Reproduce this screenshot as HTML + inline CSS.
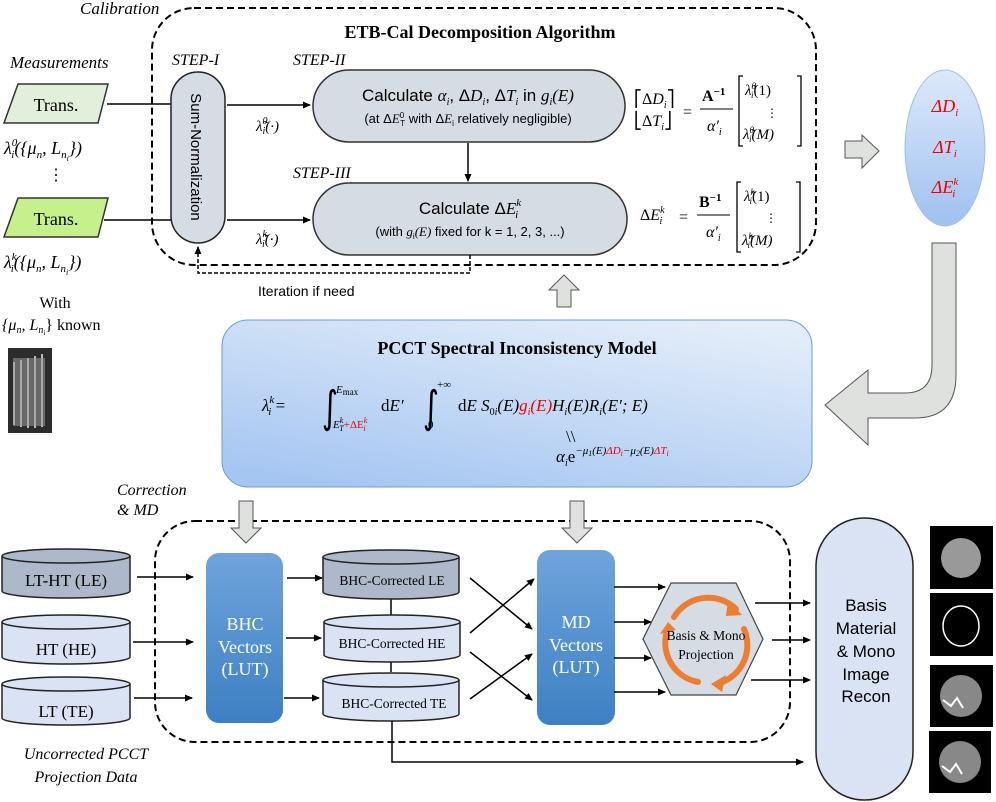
<!DOCTYPE html>
<html><head><meta charset="utf-8"><style>
body{margin:0;background:#fff;width:996px;height:802px;overflow:hidden}
svg{display:block}
.s{font-family:"Liberation Serif",serif}
.a{font-family:"Liberation Sans",sans-serif}
.i{font-style:italic}
</style></head><body>
<svg width="996" height="802" viewBox="0 0 996 802" xmlns="http://www.w3.org/2000/svg">
<defs>
<marker id="ar" markerWidth="8" markerHeight="8" refX="7" refY="4" orient="auto" markerUnits="userSpaceOnUse"><path d="M0,0.5 L8,4 L0,7.5 z" fill="#000"/></marker>
<linearGradient id="pc" x1="0.8" y1="0" x2="0.2" y2="1"><stop offset="0" stop-color="#e3edf9"/><stop offset="1" stop-color="#a6c6f2"/></linearGradient>
<linearGradient id="el" x1="0" y1="0" x2="0" y2="1"><stop offset="0" stop-color="#dde9fb"/><stop offset="1" stop-color="#9fc1f0"/></linearGradient>
<linearGradient id="bl" x1="0" y1="0" x2="0" y2="1"><stop offset="0" stop-color="#6fa4dc"/><stop offset="1" stop-color="#3d80c3"/></linearGradient>
</defs>

<!-- Calibration -->
<text x="80" y="14" class="s i" font-size="17">Calibration</text>
<rect x="152" y="8" width="664" height="257" rx="42" fill="none" stroke="#000" stroke-width="2" stroke-dasharray="7,4"/>
<text x="480" y="38" class="s" font-size="18" font-weight="bold" text-anchor="middle">ETB-Cal Decomposition Algorithm</text>
<text x="10" y="68" class="s i" font-size="17">Measurements</text>
<polygon points="18,84 108,84 98,123 4,123" fill="#e2efda" stroke="#333" stroke-width="1.5"/>
<text x="56" y="111" class="s" font-size="18" text-anchor="middle">Trans.</text>
<polygon points="18,198 108,198 98,237 4,237" fill="#c5f08c" stroke="#333" stroke-width="1.5"/>
<text x="56" y="225" class="s" font-size="18" text-anchor="middle">Trans.</text>
<text x="4" y="154" class="s i" font-size="18">λ<tspan font-size="11" dy="-8">0</tspan><tspan font-size="11" dx="-6" dy="12">i</tspan><tspan dy="-4">({μ</tspan><tspan font-size="11" dy="4">n</tspan><tspan dy="-4">, L</tspan><tspan font-size="11" dy="4">n</tspan><tspan font-size="8" dy="3">i</tspan><tspan dy="-7">})</tspan></text>
<text x="56" y="180" class="s" font-size="16" text-anchor="middle">⋮</text>
<text x="4" y="268" class="s i" font-size="18">λ<tspan font-size="11" dy="-8">k</tspan><tspan font-size="11" dx="-6" dy="12">i</tspan><tspan dy="-4">({μ</tspan><tspan font-size="11" dy="4">n</tspan><tspan dy="-4">, L</tspan><tspan font-size="11" dy="4">n</tspan><tspan font-size="8" dy="3">i</tspan><tspan dy="-7">})</tspan></text>

<text x="172" y="65" class="s i" font-size="16">STEP-I</text>
<text x="293" y="65" class="s i" font-size="16">STEP-II</text>
<text x="293" y="178" class="s i" font-size="16">STEP-III</text>

<line x1="107" y1="104" x2="171" y2="104" stroke="#000" stroke-width="1.5"/>
<line x1="104" y1="220" x2="171" y2="220" stroke="#000" stroke-width="1.5"/>
<rect x="171" y="72" width="54" height="171" rx="27" fill="#d6dce4" stroke="#222" stroke-width="1.5"/>
<text transform="translate(191,157) rotate(90)" class="a" font-size="15" text-anchor="middle">Sum-Normalization</text>
<line x1="227" y1="105" x2="310" y2="105" stroke="#000" stroke-width="1.5" marker-end="url(#ar)"/>
<line x1="227" y1="220" x2="310" y2="220" stroke="#000" stroke-width="1.5" marker-end="url(#ar)"/>
<text x="256" y="131" class="s i" font-size="15">λ̃<tspan font-size="10" dy="-7">0</tspan><tspan font-size="10" dx="-5" dy="10">i</tspan><tspan dy="-3">(·)</tspan></text>
<text x="256" y="244" class="s i" font-size="15">λ̃<tspan font-size="10" dy="-7">k</tspan><tspan font-size="10" dx="-5" dy="10">i</tspan><tspan dy="-3">(·)</tspan></text>

<rect x="313" y="70" width="312" height="72" rx="36" fill="#d6dce4" stroke="#333" stroke-width="1.5"/>
<text x="468" y="101" class="a" font-size="17" text-anchor="middle">Calculate <tspan class="s i">α</tspan><tspan font-size="10" class="s i" dy="4">i</tspan><tspan dy="-4">, Δ</tspan><tspan class="s i">D</tspan><tspan font-size="10" class="s i" dy="4">i</tspan><tspan dy="-4">, Δ</tspan><tspan class="s i">T</tspan><tspan font-size="10" class="s i" dy="4">i</tspan><tspan dy="-4"> in </tspan><tspan class="s i">g</tspan><tspan font-size="10" class="s i" dy="4">i</tspan><tspan class="s i" dy="-4">(E)</tspan></text>
<text x="468" y="123" class="a" font-size="13" text-anchor="middle">(at Δ<tspan class="s i">E</tspan><tspan font-size="8" dy="-5">0</tspan><tspan font-size="8" dx="-4" dy="8">T</tspan><tspan dy="-3"> with Δ</tspan><tspan class="s i">E</tspan><tspan font-size="8" dy="3">i</tspan><tspan dy="-3"> relatively negligible)</tspan></text>
<line x1="468" y1="143" x2="468" y2="181" stroke="#000" stroke-width="1.5" marker-end="url(#ar)"/>
<rect x="313" y="183" width="314" height="72" rx="36" fill="#d6dce4" stroke="#333" stroke-width="1.5"/>
<text x="470" y="214" class="a" font-size="17" text-anchor="middle">Calculate Δ<tspan class="s i">E</tspan><tspan font-size="11" class="s i" dy="-8">k</tspan><tspan font-size="11" class="s i" dx="-6" dy="12">i</tspan></text>
<text x="470" y="236" class="a" font-size="13" text-anchor="middle">(with <tspan class="s i">g</tspan><tspan font-size="8" dy="3">i</tspan><tspan class="s i" dy="-3">(E)</tspan> fixed for k = 1, 2, 3, ...)</text>
<polyline points="470,255 470,273 198,273 198,247" fill="none" stroke="#000" stroke-width="1.5" stroke-dasharray="4,2" marker-end="url(#ar)"/>
<text x="258" y="296" class="a" font-size="14">Iteration if need</text>

<!-- equations -->
<g class="s" font-size="16">
<text x="634" y="104"><tspan>⎡Δ</tspan><tspan class="i">D</tspan><tspan font-size="10" class="i" dy="4">i</tspan><tspan dy="-4">⎤</tspan></text>
<text x="634" y="126"><tspan>⎣Δ</tspan><tspan class="i">T</tspan><tspan font-size="10" class="i" dy="4">i</tspan><tspan dy="-4">⎦</tspan></text>
<text x="683" y="117">=</text>
<text x="702" y="101" font-weight="bold">A<tspan font-size="11" dy="-6">−1</tspan></text>
<line x1="700" y1="109" x2="733" y2="109" stroke="#000" stroke-width="1"/>
<text x="707" y="131" class="i">α′<tspan font-size="10" dy="4">i</tspan></text>
<path d="M743,76 h-4 v70 h4 M797,76 h4 v70 h-4" fill="none" stroke="#000" stroke-width="1.3"/>
<text x="745" y="95" class="i" font-size="15">λ̃<tspan font-size="9" dy="-6">0</tspan><tspan font-size="9" dx="-5" dy="9">i</tspan><tspan dy="-3" font-style="normal">(1)</tspan></text>
<text x="766" y="117" font-size="12">⋮</text>
<text x="743" y="139" class="i" font-size="15">λ̃<tspan font-size="9" dy="-6">0</tspan><tspan font-size="9" dx="-5" dy="9">i</tspan><tspan dy="-3">(M)</tspan></text>

<text x="640" y="220">Δ<tspan class="i">E</tspan><tspan font-size="10" class="i" dy="-7">k</tspan><tspan font-size="10" class="i" dx="-5" dy="11">i</tspan></text>
<text x="679" y="222">=</text>
<text x="699" y="207" font-weight="bold">B<tspan font-size="11" dy="-6">−1</tspan></text>
<line x1="697" y1="215" x2="730" y2="215" stroke="#000" stroke-width="1"/>
<text x="706" y="237" class="i">α′<tspan font-size="10" dy="4">i</tspan></text>
<path d="M741,182 h-4 v70 h4 M796,182 h4 v70 h-4" fill="none" stroke="#000" stroke-width="1.3"/>
<text x="744" y="201" class="i" font-size="15">λ̃<tspan font-size="9" dy="-6">k</tspan><tspan font-size="9" dx="-5" dy="9">i</tspan><tspan dy="-3" font-style="normal">(1)</tspan></text>
<text x="765" y="222" font-size="12">⋮</text>
<text x="742" y="245" class="i" font-size="15">λ̃<tspan font-size="9" dy="-6">k</tspan><tspan font-size="9" dx="-5" dy="9">i</tspan><tspan dy="-3">(M)</tspan></text>
</g>

<!-- right side -->
<polygon points="845,141 862,141 862,135 879,151 862,168 862,158 845,158" fill="#dfe1df" stroke="#555" stroke-width="1"/>
<ellipse cx="945" cy="148" rx="40" ry="78" fill="url(#el)" stroke="#9ebde6" stroke-width="1"/>
<g class="s i" font-size="18" fill="#e00" text-anchor="middle">
<text x="945" y="112">ΔD<tspan font-size="11" dy="4">i</tspan></text>
<text x="945" y="153">ΔT<tspan font-size="11" dy="4">i</tspan></text>
<text x="945" y="193">ΔE<tspan font-size="11" dy="-8">k</tspan><tspan font-size="11" dx="-6" dy="12">i</tspan></text>
</g>
<path d="M932,243 H956 V375 Q956,418 915,418 H868 V445 L825,405 L868,370 V393 H905 Q932,393 932,365 Z" fill="#dfe1df" stroke="#555" stroke-width="1"/>

<polygon points="564,275 579,290 571,290 571,307 557,307 557,290 549,290" fill="#dfe1df" stroke="#555" stroke-width="1"/>

<!-- PCCT model -->
<rect x="222" y="320" width="590" height="167" rx="26" fill="url(#pc)" stroke="#6c9bd9" stroke-width="1"/>
<text x="517" y="354" class="s" font-size="18" font-weight="bold" text-anchor="middle">PCCT Spectral Inconsistency Model</text>
<g class="s" font-size="17">
<text x="262" y="411" class="i">λ<tspan font-size="11" dy="-8">k</tspan><tspan font-size="11" dx="-6" dy="12">i</tspan><tspan dy="-4" font-style="normal"> = </tspan></text>
<text x="322" y="422" font-size="44" font-family="DejaVu Sans, sans-serif" transform="translate(322,422) scale(0.7,1) translate(-322,-422)">∫</text>
<text x="336" y="393" font-size="11" class="i">E<tspan font-size="9" font-style="normal" dy="2">max</tspan></text>
<text x="333" y="428" font-size="11" class="i">E<tspan font-size="8" dy="-5">k</tspan><tspan font-size="8" dx="-4" dy="8">T</tspan><tspan dy="-3" fill="#e00" font-style="normal">+ΔE</tspan><tspan font-size="8" fill="#e00" dy="-5">k</tspan><tspan font-size="8" fill="#e00" dx="-4" dy="8">i</tspan></text>
<text x="381" y="411">d<tspan class="i">E′</tspan></text>
<text x="423" y="422" font-size="44" font-family="DejaVu Sans, sans-serif" transform="translate(423,422) scale(0.7,1) translate(-423,-422)">∫</text>
<text x="437" y="388" font-size="11">+∞</text>
<text x="428" y="428" font-size="11">0</text>
<text x="458" y="411">d<tspan class="i">E S</tspan><tspan font-size="10" dy="4">0<tspan class="i">i</tspan></tspan><tspan class="i" dy="-4">(E)</tspan><tspan class="i" fill="#e00">g</tspan><tspan font-size="10" class="i" fill="#e00" dy="4">i</tspan><tspan class="i" fill="#e00" dy="-4">(E)</tspan><tspan class="i">H</tspan><tspan font-size="10" class="i" dy="4">i</tspan><tspan class="i" dy="-4">(E)R</tspan><tspan font-size="10" class="i" dy="4">i</tspan><tspan class="i" dy="-4">(E′; E)</tspan></text>
<text x="566" y="442" font-size="17">\\</text>
<text x="556" y="462" class="i">α<tspan font-size="10" dy="4">i</tspan><tspan dy="-4" font-style="normal">e</tspan><tspan font-size="11" dy="-8">−μ<tspan font-size="8" dy="2">1</tspan><tspan dy="-2">(E)</tspan><tspan fill="#e00">ΔD<tspan font-size="8" dy="2">i</tspan></tspan><tspan dy="-2">−μ</tspan><tspan font-size="8" dy="2">2</tspan><tspan dy="-2">(E)</tspan><tspan fill="#e00">ΔT<tspan font-size="8" dy="2">i</tspan></tspan></tspan></text>
</g>

<!-- With known -->
<text x="55" y="308" class="s" font-size="16" text-anchor="middle">With</text>
<text x="2" y="330" class="s" font-size="16"><tspan class="i">{μ</tspan><tspan font-size="10" class="i" dy="3">n</tspan><tspan dy="-3" class="i">, L</tspan><tspan font-size="10" class="i" dy="3">n</tspan><tspan font-size="7" dy="2">i</tspan><tspan dy="-5">} known</tspan></text>
<rect x="8" y="348" width="44" height="85" fill="#2c2c2c"/>
<g stroke="#bbb" stroke-width="2"><line x1="14" y1="362" x2="14" y2="425"/><line x1="21" y1="360" x2="21" y2="427"/><line x1="28" y1="358" x2="28" y2="428"/><line x1="35" y1="356" x2="35" y2="428"/><line x1="42" y1="354" x2="42" y2="427"/></g>
<rect x="13" y="358" width="32" height="68" fill="#9a9a9a" opacity="0.55"/>

<!-- Correction & MD -->
<text x="117" y="495" class="s i" font-size="16">Correction</text>
<text x="117" y="515" class="s i" font-size="16">&amp; MD</text>
<rect x="155" y="521" width="635" height="221" rx="40" fill="none" stroke="#000" stroke-width="2" stroke-dasharray="7,4"/>
<polygon points="239,501 253,501 253,528 261,528 246,543 231,528 239,528" fill="#dfe1df" stroke="#555" stroke-width="1"/>
<polygon points="570,501 584,501 584,528 592,528 577,543 562,528 570,528" fill="#dfe1df" stroke="#555" stroke-width="1"/>

<g stroke="#222" stroke-width="1.5">
<path d="M2,556 v35 a64,7 0 0 0 128,0 v-35" fill="#adb9ca"/><ellipse cx="66" cy="556" rx="64" ry="7" fill="#adb9ca"/>
<path d="M2,622 v35 a64,7 0 0 0 128,0 v-35" fill="#dae3f3"/><ellipse cx="66" cy="622" rx="64" ry="7" fill="#dae3f3"/>
<path d="M2,684 v34 a64,7 0 0 0 128,0 v-34" fill="#dae3f3"/><ellipse cx="66" cy="684" rx="64" ry="7" fill="#dae3f3"/>
</g>
<g class="s" font-size="17" text-anchor="middle">
<text x="66" y="586">LT-HT (LE)</text><text x="66" y="655">HT (HE)</text><text x="66" y="717">LT (TE)</text>
</g>
<g stroke="#000" stroke-width="1.5" marker-end="url(#ar)">
<line x1="137" y1="577" x2="193" y2="577"/><line x1="133" y1="642" x2="193" y2="642"/><line x1="134" y1="698" x2="192" y2="698"/>
<line x1="287" y1="578" x2="322" y2="578"/><line x1="286" y1="638" x2="321" y2="638"/><line x1="284" y1="698" x2="319" y2="698"/>
</g>
<rect x="206" y="553" width="77" height="170" rx="13" fill="url(#bl)"/>
<g class="s" font-size="18" fill="#fff" text-anchor="middle"><text x="245" y="630">BHC</text><text x="245" y="653">Vectors</text><text x="245" y="675">(LUT)</text></g>

<line x1="391" y1="598" x2="391" y2="615" stroke="#000" stroke-width="1.5"/>
<line x1="391" y1="662" x2="391" y2="672" stroke="#000" stroke-width="1.5"/>
<g stroke="#222" stroke-width="1.5">
<path d="M323,557 v35 a68,7 0 0 0 136,0 v-35" fill="#adb9ca"/><ellipse cx="391" cy="557" rx="68" ry="7" fill="#adb9ca"/>
<path d="M324,622 v33 a68,7 0 0 0 136,0 v-33" fill="#dae3f3"/><ellipse cx="392" cy="622" rx="68" ry="7" fill="#dae3f3"/>
<path d="M323,680 v34 a68,7 0 0 0 136,0 v-34" fill="#dae3f3"/><ellipse cx="391" cy="680" rx="68" ry="7" fill="#dae3f3"/>
</g>
<g class="s" font-size="13.5" text-anchor="middle">
<text x="392" y="585">BHC-Corrected LE</text><text x="392" y="648">BHC-Corrected HE</text><text x="394" y="708">BHC-Corrected TE</text>
</g>
<g stroke="#000" stroke-width="1.5" marker-end="url(#ar)">
<line x1="470" y1="578" x2="532" y2="629"/><line x1="470" y1="633" x2="534" y2="579"/>
<line x1="470" y1="652" x2="532" y2="700"/><line x1="470" y1="699" x2="532" y2="654"/>
</g>
<rect x="537" y="550" width="78" height="175" rx="13" fill="url(#bl)"/>
<g class="s" font-size="18" fill="#fff" text-anchor="middle"><text x="576" y="628">MD</text><text x="576" y="651">Vectors</text><text x="576" y="673">(LUT)</text></g>
<g stroke="#000" stroke-width="1.5" marker-end="url(#ar)">
<line x1="614" y1="587" x2="665" y2="587"/><line x1="614" y1="622" x2="651" y2="622"/><line x1="614" y1="658" x2="651" y2="658"/><line x1="614" y1="692" x2="665" y2="692"/>
</g>
<polygon points="643,639 671,583 736,583 763,639 736,695 671,695" fill="#d6dce4" stroke="#444" stroke-width="1.2"/>
<g fill="none" stroke="#ed7d31" stroke-width="6" stroke-linecap="round">
<path d="M674,617 A40,40 0 0 1 736,609"/>
<path d="M744,629 A40,40 0 0 1 720,683"/>
<path d="M698,682 A40,40 0 0 1 666,635"/>
</g>
<g fill="#ed7d31"><polygon points="728,600 742,615 726,616"/><polygon points="711,684 726,675 722,692"/><polygon points="660,634 676,630 668,622"/></g>
<g class="s" font-size="13.5" text-anchor="middle"><text x="706" y="640">Basis &amp; Mono</text><text x="706" y="659">Projection</text></g>
<g stroke="#000" stroke-width="1.5" marker-end="url(#ar)">
<line x1="755" y1="603" x2="810" y2="603"/><line x1="772" y1="640" x2="810" y2="640"/><line x1="751" y1="680" x2="810" y2="680"/>
<polyline points="392,721 392,762 803,762" fill="none"/>
</g>
<rect x="816" y="518" width="97" height="282" rx="48" fill="#dae3f3" stroke="#222" stroke-width="1.5"/>
<g class="a" font-size="17" text-anchor="middle"><text x="866" y="611">Basis</text><text x="866" y="634">Material</text><text x="866" y="657">&amp; Mono</text><text x="866" y="680">Image</text><text x="866" y="702">Recon</text></g>

<g>
<rect x="930" y="526" width="63" height="63" fill="#000"/><circle cx="961" cy="558" r="20" fill="#999"/>
<rect x="930" y="593" width="63" height="63" fill="#000"/><ellipse cx="961" cy="626" rx="18" ry="20" fill="none" stroke="#fff" stroke-width="1.5"/>
<rect x="930" y="665" width="63" height="62" fill="#000"/><circle cx="961" cy="696" r="21" fill="#888"/><path d="M943,700 l8,6 l6,-8 l6,10" stroke="#fff" stroke-width="2" fill="none"/>
<rect x="929" y="731" width="62" height="62" fill="#000"/><circle cx="960" cy="762" r="21" fill="#888"/><path d="M942,766 l8,6 l6,-8 l6,10" stroke="#fff" stroke-width="2" fill="none"/>
</g>

<text x="86" y="759" class="s i" font-size="16" text-anchor="middle">Uncorrected PCCT</text>
<text x="86" y="782" class="s i" font-size="16" text-anchor="middle">Projection Data</text>
</svg>
</body></html>
